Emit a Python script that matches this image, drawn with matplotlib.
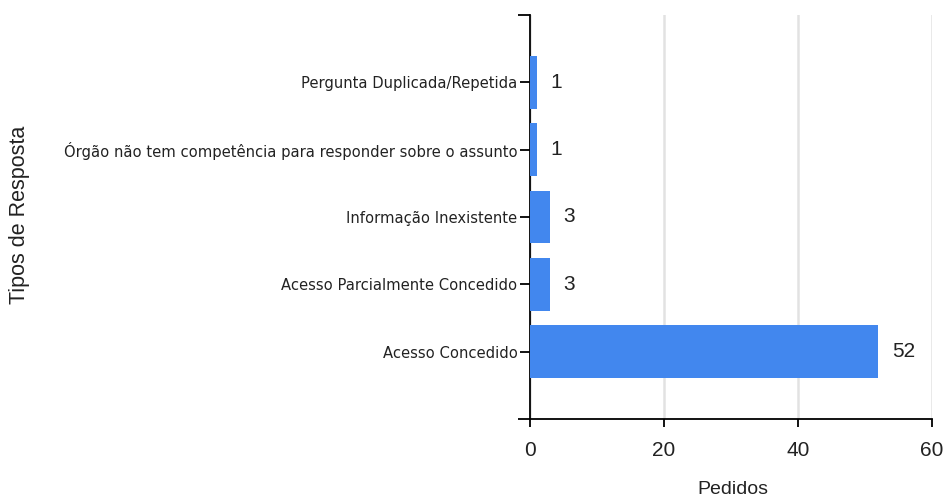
import matplotlib
matplotlib.use("Agg")
import matplotlib.pyplot as plt

categories = ["Acesso Concedido", "Acesso Parcialmente Concedido", "Informação Inexistente",
              "Órgão não tem competência para responder sobre o assunto", "Pergunta Duplicada/Repetida"]
values = [52, 3, 3, 1, 1]
xticks = [0, 20, 40, 60]

fig = plt.figure(figsize=(9.45, 5), dpi=100)
ax = fig.add_axes([530/945, 1-419/500, (932-530)/945, (419-15)/500])

ypos = list(range(len(categories)))
ax.barh(ypos, values, height=0.78, color="#4287EE", zorder=3)
for y, v in zip(ypos, values):
    ax.text(v + 2.0, y, str(v), va="center", ha="left", fontsize=15,
            family="Liberation Sans", color="#222222")

ax.set_xlim(0, 60)
ax.set_ylim(-1, 5)
ax.set_xticks(xticks)
ax.set_xticklabels([str(t) for t in xticks], fontsize=15, family="Liberation Sans", color="#222222")
ax.set_yticks(ypos)
ax.set_yticklabels(categories, fontsize=10.6, family="DejaVu Sans", color="#222222")
ax.tick_params(axis="x", length=6, width=1.3, pad=10)
ax.tick_params(axis="y", length=7, width=1.3, pad=2)
ax.xaxis.grid(True, color="#e2e2e2", linewidth=1.8, zorder=0)
ax.set_axisbelow(True)
for s in ["top", "right"]:
    ax.spines[s].set_visible(False)
for s in ["left", "bottom"]:
    ax.spines[s].set_linewidth(1.3)

# end ticks on y axis
ax.set_yticks([-1, 5], minor=True)
ax.tick_params(axis="y", which="minor", length=9, width=1.3)

fig.text(733/945, 1-489/500, "Pedidos", va="center", ha="center",
         fontsize=14, family="Liberation Sans", color="#222222")
fig.text(20/945, 1-215/500, "Tipos de Resposta", rotation=90, va="center", ha="center",
         fontsize=15.5, family="Liberation Sans", color="#222222")

fig.savefig("out.png", dpi=100)
